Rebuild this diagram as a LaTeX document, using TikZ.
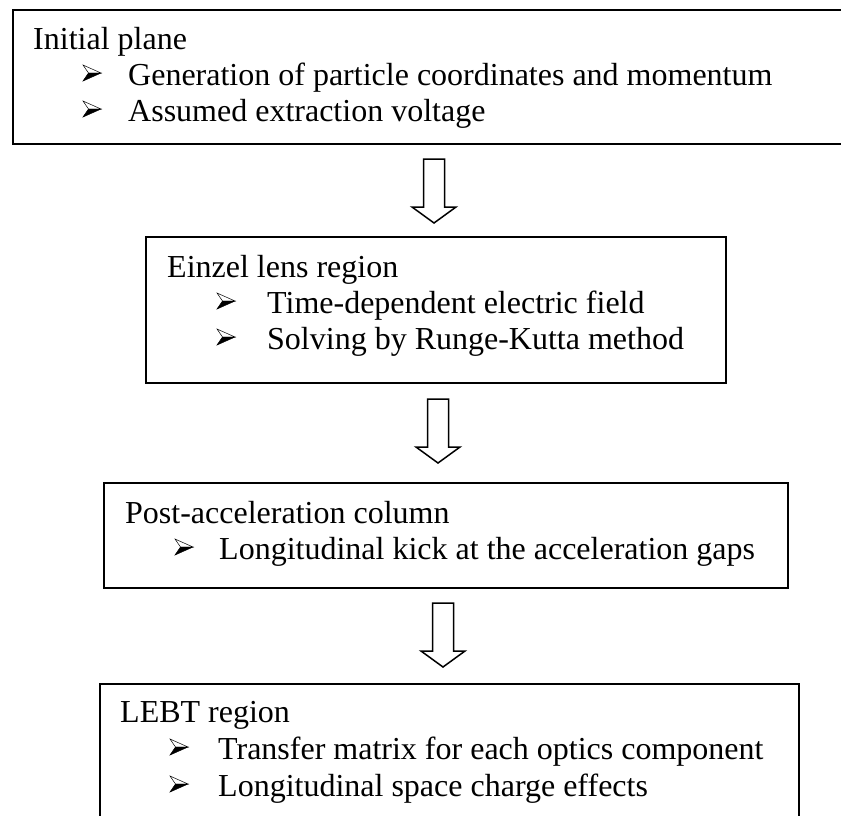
\documentclass[tikz,border=0pt]{standalone}
\usepackage{fontspec}
\setmainfont{Liberation Serif}
\usetikzlibrary{calc}
\begin{document}
\begin{tikzpicture}[x=1pt,y=-1pt,
  stage/.style={draw, line width=2.2pt, inner sep=0pt, anchor=north west},
  heading/.style={anchor=base west, inner sep=0pt, font=\fontsize{32}{36}\selectfont},
  item/.style={anchor=base west, inner sep=0pt, font=\fontsize{32}{36}\selectfont},
  pics/listmark/.style={code={
    \filldraw[line width=0.5pt, fill=white, line join=miter] (18,0) -- (0,-8) -- (5.5,0) -- cycle;
    \filldraw[line width=0.5pt, fill=black, line join=miter] (18,0) -- (5.5,0) -- (0,8) -- cycle;
  }},
  pics/blockarrow/.style={code={
    % tip at the origin, pointing down
    \draw[line width=1.5pt, fill=white, line join=miter]
      (0,0) -- (-22,-16) -- (-10.5,-16) -- (-10.5,-64) -- (10.5,-64) -- (10.5,-16) -- (22,-16) -- cycle;
  }},
]
\useasboundingbox (0,0) rectangle (841,815);
\clip (0,0) rectangle (841,815);

% stage boxes
\node[stage, minimum width=840pt, minimum height=134pt] (initial) at (12,9) {};
\node[stage, minimum width=580pt, minimum height=146pt] (einzel) at (145,236) {};
\node[stage, minimum width=684pt, minimum height=105pt] (post) at (103,482) {};
\node[stage, minimum width=699pt, minimum height=150pt] (lebt) at (99,683) {};

% Initial plane
\node[heading] (h1) at ($(initial.north west)+(21,40)$) {Initial plane};
\pic at ($(h1.base west)+(50,-12+36)$) {listmark};
\node[item] (i11) at ($(h1.base west)+(95,36)$) {Generation of particle coordinates and momentum};
\pic at ($(h1.base west)+(50,-12+72)$) {listmark};
\node[item] (i12) at ($(h1.base west)+(95,72)$) {Assumed extraction voltage};

% Einzel lens region
\node[heading] (h2) at ($(einzel.north west)+(22,41)$) {Einzel lens region};
\pic at ($(h2.base west)+(50,-12+36)$) {listmark};
\node[item] (i21) at ($(h2.base west)+(100,36)$) {Time-dependent electric field};
\pic at ($(h2.base west)+(50,-12+72)$) {listmark};
\node[item] (i22) at ($(h2.base west)+(100,72)$) {Solving by Runge-Kutta method};

% Post-acceleration column
\node[heading] (h3) at ($(post.north west)+(22,41)$) {Post-acceleration column};
\pic at ($(h3.base west)+(50,-12+36)$) {listmark};
\node[item] (i31) at ($(h3.base west)+(94,36)$) {Longitudinal kick at the acceleration gaps};

% LEBT region
\node[heading] (h4) at ($(lebt.north west)+(21,39)$) {LEBT region};
\pic at ($(h4.base west)+(50,-12+37)$) {listmark};
\node[item] (i41) at ($(h4.base west)+(98,37)$) {Transfer matrix for each optics component};
\pic at ($(h4.base west)+(50,-12+74)$) {listmark};
\node[item] (i42) at ($(h4.base west)+(98,74)$) {Longitudinal space charge effects};

% block arrows between the stages
\coordinate (t1) at (434,223);
\coordinate (t2) at (438,463);
\coordinate (t3) at (443,667);
\pic at (t1) {blockarrow};
\pic at (t2) {blockarrow};
\pic at (t3) {blockarrow};
\end{tikzpicture}
\end{document}
